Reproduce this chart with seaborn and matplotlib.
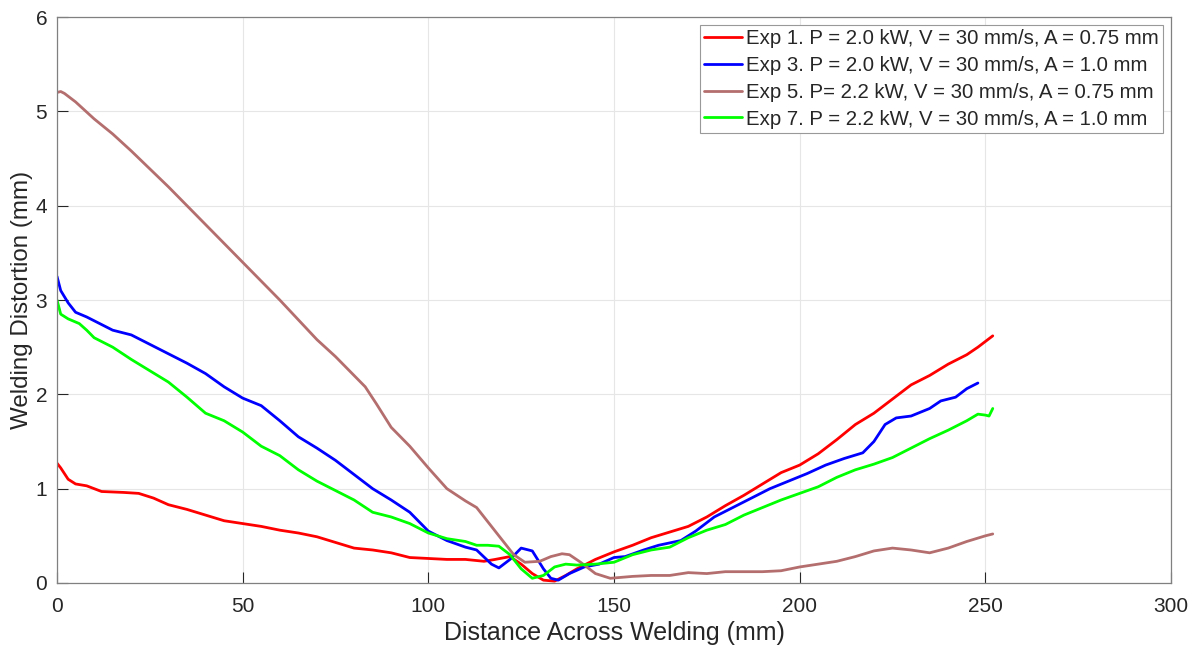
import pandas as pd
import seaborn as sns
import matplotlib.pyplot as plt

# Exp 1
x1 = [0, 1, 3, 5, 8, 12, 18, 22, 26, 30, 35, 40, 45, 50, 55, 60, 65, 70, 75, 80, 85, 90, 95,
      100, 105, 110, 115, 118, 122, 125, 128, 131, 134, 137, 140, 145, 150, 155, 160, 165, 170,
      175, 180, 185, 190, 195, 200, 205, 210, 215, 220, 225, 230, 235, 240, 245, 248, 252]
y1 = [1.27, 1.22, 1.10, 1.05, 1.03, 0.97, 0.96, 0.95, 0.90, 0.83, 0.78, 0.72, 0.66, 0.63, 0.60,
      0.56, 0.53, 0.49, 0.43, 0.37, 0.35, 0.32, 0.27, 0.26, 0.25, 0.25, 0.23, 0.25, 0.28, 0.20,
      0.10, 0.03, 0.02, 0.08, 0.15, 0.25, 0.33, 0.40, 0.48, 0.54, 0.60, 0.70, 0.82, 0.93, 1.05,
      1.17, 1.25, 1.37, 1.52, 1.68, 1.80, 1.95, 2.10, 2.20, 2.32, 2.42, 2.50, 2.62]

# Exp 3
x3 = [0, 1, 3, 5, 8, 10, 15, 20, 25, 30, 35, 40, 45, 50, 55, 60, 65, 70, 75, 80, 85, 90, 95,
      100, 105, 110, 113, 117, 119, 122, 125, 128, 131, 133, 135, 138, 142, 146, 150, 153, 158,
      162, 168, 172, 177, 182, 187, 192, 197, 202, 207, 212, 217, 220, 223, 226, 230, 235, 238,
      242, 245, 248]
y3 = [3.25, 3.10, 2.97, 2.87, 2.82, 2.78, 2.68, 2.63, 2.53, 2.43, 2.33, 2.22, 2.08, 1.96, 1.88,
      1.72, 1.55, 1.43, 1.30, 1.15, 1.00, 0.88, 0.75, 0.55, 0.45, 0.38, 0.35, 0.20, 0.16, 0.25,
      0.37, 0.34, 0.15, 0.05, 0.03, 0.10, 0.17, 0.20, 0.27, 0.28, 0.35, 0.40, 0.45, 0.55, 0.70,
      0.80, 0.90, 1.00, 1.08, 1.16, 1.25, 1.32, 1.38, 1.50, 1.68, 1.75, 1.77, 1.85, 1.93, 1.97,
      2.06, 2.12]

# Exp 5
x5 = [0, 1, 2, 5, 10, 15, 20, 25, 30, 35, 40, 45, 50, 55, 60, 65, 70, 75, 80, 83, 86, 90, 95,
      100, 105, 110, 113, 116, 120, 123, 126, 130, 133, 136, 138, 141, 145, 149, 155, 160, 165,
      170, 175, 180, 190, 195, 200, 205, 210, 215, 220, 225, 230, 235, 240, 245, 250, 252]
y5 = [5.20, 5.21, 5.19, 5.10, 4.92, 4.76, 4.58, 4.39, 4.20, 4.00, 3.80, 3.60, 3.40, 3.20, 3.00,
      2.79, 2.58, 2.40, 2.20, 2.08, 1.90, 1.65, 1.45, 1.22, 1.00, 0.87, 0.80, 0.65, 0.45, 0.30,
      0.22, 0.23, 0.28, 0.31, 0.30, 0.22, 0.10, 0.05, 0.07, 0.08, 0.08, 0.11, 0.10, 0.12, 0.12,
      0.13, 0.17, 0.20, 0.23, 0.28, 0.34, 0.37, 0.35, 0.32, 0.37, 0.44, 0.50, 0.52]

# Exp 7
x7 = [0, 1, 3, 6, 8, 10, 15, 20, 25, 30, 35, 40, 45, 50, 55, 60, 65, 70, 75, 80, 85, 90, 95,
      100, 105, 110, 113, 116, 119, 122, 125, 128, 131, 134, 137, 140, 145, 150, 155, 160, 165,
      170, 175, 180, 185, 190, 195, 200, 205, 210, 215, 220, 225, 230, 235, 240, 245, 248, 250,
      251, 252]
y7 = [3.00, 2.85, 2.80, 2.75, 2.68, 2.60, 2.50, 2.37, 2.25, 2.13, 1.97, 1.80, 1.72, 1.60, 1.45,
      1.35, 1.20, 1.08, 0.98, 0.88, 0.75, 0.70, 0.63, 0.53, 0.47, 0.44, 0.40, 0.40, 0.39, 0.30,
      0.15, 0.05, 0.08, 0.17, 0.20, 0.19, 0.20, 0.22, 0.30, 0.35, 0.38, 0.48, 0.56, 0.62, 0.72,
      0.80, 0.88, 0.95, 1.02, 1.12, 1.20, 1.26, 1.33, 1.43, 1.53, 1.62, 1.72, 1.79, 1.78, 1.77,
      1.85]

labels = ['Exp 1. P = 2.0 kW, V = 30 mm/s, A = 0.75 mm',
          'Exp 3. P = 2.0 kW, V = 30 mm/s, A = 1.0 mm',
          'Exp 5. P= 2.2 kW, V = 30 mm/s, A = 0.75 mm',
          'Exp 7. P = 2.2 kW, V = 30 mm/s, A = 1.0 mm']
colors = ['#ff0000', '#0000ff', '#b46e6e', '#00ff00']

frames = []
for xs, ys, lab in zip([x1, x3, x5, x7], [y1, y3, y5, y7], labels):
    frames.append(pd.DataFrame({'x': xs, 'y': ys, 'exp': lab}))
df = pd.concat(frames, ignore_index=True)

sns.set_theme(style="ticks")
plt.rcParams['font.family'] = ['Liberation Sans', 'DejaVu Sans']

fig = plt.figure(figsize=(11.98, 6.54), dpi=100)
ax = fig.add_axes([57 / 1198, 71 / 654, 1114 / 1198, 566 / 654])

sns.lineplot(data=df, x='x', y='y', hue='exp', palette=colors, hue_order=labels,
             sort=False, estimator=None, linewidth=2.0, ax=ax)

ax.set_xlim(0, 300)
ax.set_ylim(0, 6)
ax.set_xticks(range(0, 301, 50))
ax.set_yticks(range(0, 7))
ax.grid(True, color='#e6e6e6', linewidth=0.8)
ax.tick_params(direction='in', labelsize=15, colors='#262626', length=8, width=0.8)
ax.tick_params(axis='x', pad=10)
ax.tick_params(axis='y', pad=7)
for s in ax.spines.values():
    s.set_color('#808080')
    s.set_linewidth(0.9)

ax.set_xlabel('Distance Across Welding (mm)', fontsize=18, color='#262626', labelpad=4)
ax.set_ylabel('Welding Distortion (mm)', fontsize=17.4, color='#262626', labelpad=2)

leg = ax.legend(loc='upper right', fontsize=14.7, frameon=True, fancybox=False,
                edgecolor='#999999', framealpha=1, borderpad=0.2, labelspacing=0.38,
                handlelength=1.85, handletextpad=0.2, borderaxespad=0.4)
leg.get_frame().set_linewidth(0.8)

fig.savefig('out.png', dpi=100)
